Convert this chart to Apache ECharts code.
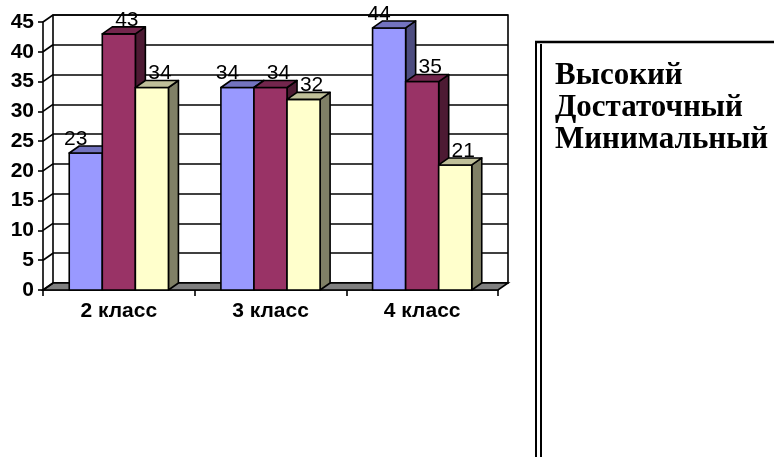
<!DOCTYPE html>
<html>
<head>
<meta charset="utf-8">
<script src="https://cdn.jsdelivr.net/npm/echarts@6/dist/echarts.min.js"></script>
<style>html,body{margin:0;padding:0;background:#fff}#c{width:774px;height:457px}</style>
</head>
<body>
<div id="c"></div>
<script>
const categories = ['2 класс', '3 класс', '4 класс'];
const seriesNames = ['Высокий', 'Достаточный', 'Минимальный'];
const valuesHigh = [23, 34, 44];
const valuesEnough = [43, 34, 35];
const valuesMinimal = [34, 32, 21];
const yTickValues = [0, 5, 10, 15, 20, 25, 30, 35, 40, 45];

const DX = 10, DY = 7;
const palettes = [
  { front: '#9999FF', top: '#7373BF', side: '#4D4D80', labelDx: -10 },
  { front: '#993366', top: '#73264D', side: '#4D1A33', labelDx: 8 },
  { front: '#FFFFCC', top: '#BFBF99', side: '#808066', labelDx: 8 }
];
const allValues = [valuesHigh, valuesEnough, valuesMinimal];
const SANS = 'Liberation Sans, Arial, sans-serif';

function barRenderer(k) {
  const pal = palettes[k];
  return function (params, api) {
    const ci = api.value(0), v = api.value(1);
    const base = api.coord([ci, 0]);
    const top = api.coord([ci, v]);
    const band = api.size([1, 0])[0];
    const bw = band * 0.218;
    const x0 = base[0] - 1.5 * bw + k * bw, x1 = x0 + bw;
    const yb = base[1], yt = top[1];
    const st = { stroke: '#000', lineWidth: 1.6, lineJoin: 'round' };
    return {
      type: 'group',
      children: [
        { type: 'polygon', shape: { points: [[x1, yt], [x1 + DX, yt - DY], [x1 + DX, yb - DY], [x1, yb]] },
          style: Object.assign({ fill: pal.side }, st) },
        { type: 'rect', shape: { x: x0, y: yt, width: bw, height: yb - yt },
          style: Object.assign({ fill: pal.front }, st) },
        { type: 'polygon', shape: { points: [[x0, yt], [x1, yt], [x1 + DX, yt - DY], [x0 + DX, yt - DY]] },
          style: Object.assign({ fill: pal.top }, st) },
        { type: 'text', z2: 100,
          style: { text: String(v), x: (x0 + x1) / 2 + pal.labelDx, y: yt - 14,
                   align: 'center', verticalAlign: 'middle',
                   fontSize: 21, fontFamily: SANS, fill: '#000' } }
      ]
    };
  };
}

function frameRenderer(params, api) {
  const cs = params.coordSys;
  const v = api.value(1);
  const p = api.coord([0, v]);
  const x0 = cs.x;
  const children = [
    { type: 'line', shape: { x1: x0, y1: p[1], x2: x0 + DX, y2: p[1] - DY },
      style: { stroke: '#000', lineWidth: 1.6 } }
  ];
  if (params.dataIndex === 0) {
    const yb = cs.y + cs.height, xr = cs.x + cs.width;
    children.unshift({ type: 'polygon',
      shape: { points: [[x0, yb], [xr, yb], [xr + DX, yb - DY], [x0 + DX, yb - DY]] },
      style: { fill: '#808080', stroke: '#000', lineWidth: 1.6 } });
  }
  return { type: 'group', children };
}

const chart = echarts.init(document.getElementById('c'), null, { renderer: 'canvas' });
const series = [
  { type: 'custom', name: 'frame', xAxisIndex: 0, yAxisIndex: 0, z: 1, silent: true,
    renderItem: frameRenderer, data: yTickValues.map(v => [0, v]), encode: { x: 0, y: 1 } }
];
seriesNames.forEach((n, k) => {
  series.push({
    type: 'custom', name: n, xAxisIndex: 0, yAxisIndex: 0, z: 3,
    itemStyle: { color: palettes[k].front },
    renderItem: barRenderer(k),
    data: allValues[k].map((v, i) => [i, v]),
    encode: { x: 0, y: 1 }
  });
});

chart.setOption({
  animation: false,
  backgroundColor: '#fff',
  grid: [
    { left: 43, right: 276, top: 22, bottom: 167 },
    { left: 53, right: 266, top: 15, bottom: 174, show: true, borderColor: '#000', borderWidth: 1.6, backgroundColor: '#fff', z: 0 }
  ],
  xAxis: [
    { type: 'category', gridIndex: 0, data: categories, boundaryGap: true,
      axisLine: { show: true, lineStyle: { color: '#000', width: 1.6 } },
      axisTick: { show: true, length: 6, lineStyle: { color: '#000', width: 1.6 } },
      axisLabel: { color: '#000', fontWeight: 'bold', fontSize: 21, fontFamily: SANS, margin: 11 },
      splitLine: { show: false } },
    { type: 'value', gridIndex: 1, show: false, min: 0, max: 1 }
  ],
  yAxis: [
    { type: 'value', gridIndex: 0, min: 0, max: 45, interval: 5,
      axisLine: { show: true, lineStyle: { color: '#000', width: 1.6 } },
      axisTick: { show: true, length: 5, lineStyle: { color: '#000', width: 1.6 } },
      axisLabel: { color: '#000', fontWeight: 'bold', fontSize: 21, fontFamily: SANS, margin: 9 },
      splitLine: { show: false } },
    { type: 'value', gridIndex: 1, min: 0, max: 45, interval: 5,
      axisLine: { show: false }, axisTick: { show: false }, axisLabel: { show: false },
      splitLine: { show: true, lineStyle: { color: '#000', width: 1.6 } } }
  ],
  legend: {
    data: seriesNames, orient: 'vertical', left: 545, top: 55,
    itemWidth: 0, itemHeight: 0, itemGap: 0, selectedMode: false,
    textStyle: { color: '#000', fontFamily: 'Liberation Serif, Times New Roman, serif', fontWeight: 'bold', fontSize: 31, lineHeight: 32 }
  },
  graphic: [
    { type: 'line', shape: { x1: 535, y1: 42, x2: 774, y2: 42 }, style: { stroke: '#000', lineWidth: 2.5 } },
    { type: 'line', shape: { x1: 536, y1: 41, x2: 536, y2: 457 }, style: { stroke: '#000', lineWidth: 2 } },
    { type: 'line', shape: { x1: 541, y1: 44, x2: 541, y2: 457 }, style: { stroke: '#000', lineWidth: 2 } }
  ],
  series: series
});
</script>
</body>
</html>
